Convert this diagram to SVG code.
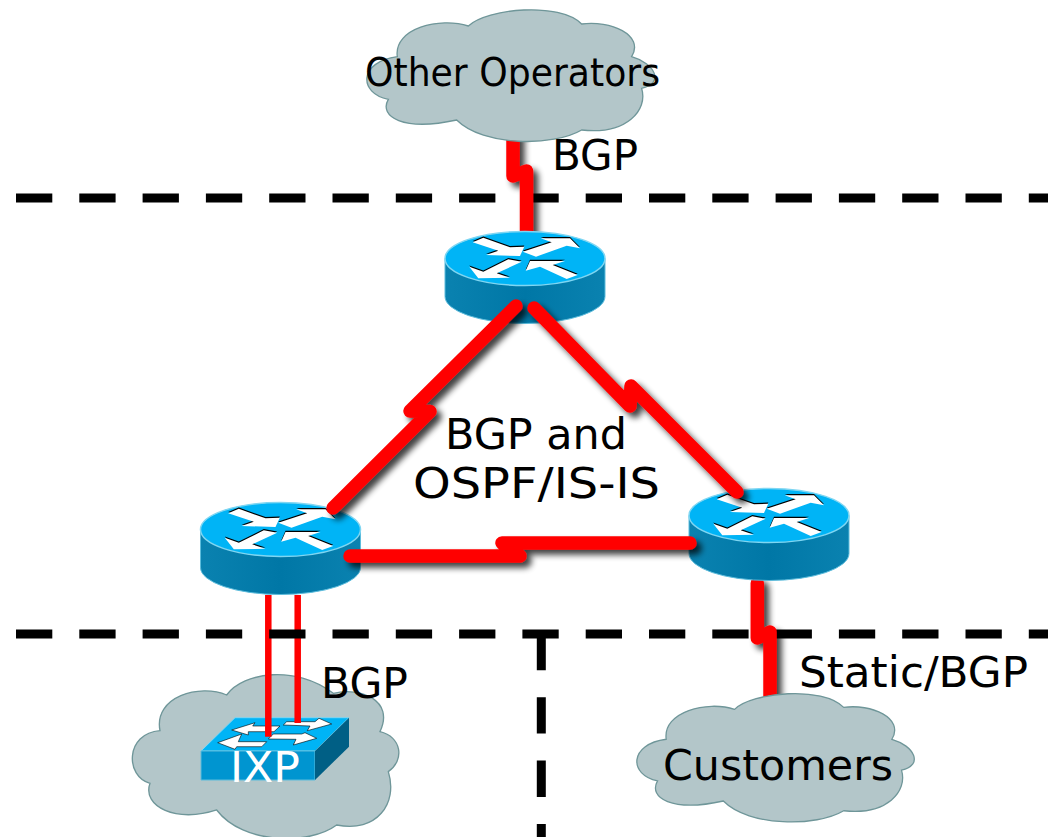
<svg xmlns="http://www.w3.org/2000/svg" width="1048" height="837" viewBox="0 0 1048 837">
<style>
text{font-family:"DejaVu Sans",Verdana,sans-serif;fill:#000}
.cloud{fill:#b3c6c9;stroke:#6f9699;stroke-width:4}
.link{fill:none;stroke:#f00;stroke-width:13.5;stroke-linecap:round;stroke-linejoin:round}
.thin{fill:none;stroke:#f00;stroke-width:6.5}
.dash{fill:none;stroke:#000;stroke-width:9;stroke-dasharray:36.3 27}
.w{fill:#fff}
.k{fill:#000}
</style>
<defs>
<filter id="sh" filterUnits="userSpaceOnUse" x="0" y="0" width="1048" height="837">
<feGaussianBlur in="SourceAlpha" stdDeviation="3"/><feOffset dx="5" dy="5"/><feComponentTransfer><feFuncA type="linear" slope=".75"/></feComponentTransfer>
<feMerge><feMergeNode/><feMergeNode in="SourceGraphic"/></feMerge>
</filter>
<linearGradient id="side" x1="0" x2="1" y1="0" y2="0"><stop offset="0" stop-color="#0a82b0"/><stop offset=".5" stop-color="#0077a6"/><stop offset="1" stop-color="#0a82b0"/></linearGradient>
<path id="cl" d="M385,78C440,25 660,5 725,72C810,60 915,105 875,170C945,190 975,250 905,265C925,330 860,405 725,390C640,440 430,440 350,360C190,395 115,350 145,298C55,280 55,185 172,170C160,85 300,50 385,78Z"/>
<g id="arrows">
<path id="a1" d="M-52.3,-16.2L-41.7,-20.8L-15,-11.2L-.7,-11.8L-5,-2.5L-39,-3.5L-26.7,-7.8Z"/>
<path id="a2" d="M-2.3,-6.8L26.7,-16.2L15.7,-20.2L45,-20.2L55,-10.2L41.7,-12.8L11,-1.8Z"/>
<path id="a3" d="M-3.3,3.2L-28.3,14.8L-15,19.2L-46.7,19.8L-55.7,8.2L-41.7,13.2L-16.7,.8Z"/>
<path id="a4" d="M.7,12.2L5,2.5L40,2.5L27.7,6.5L52.7,16.5L41.7,20.5L15,8.2Z"/>
</g>
<g id="router">
<path d="M-80,0V38A80,27 0 0 0 80,38V0Z" fill="url(#side)" stroke="#5cbcdc" stroke-width="1"/>
<ellipse cx="0" cy="0" rx="80" ry="27" fill="#00b4f6" stroke="#7fd6f2" stroke-width="1.5"/>
<use href="#arrows" class="k" y="-1.2"/>
<use href="#arrows" class="w"/>
</g>
</defs>
<g id="cloud-ixp"><path class="cloud" transform="translate(120 590) scale(.3333)" d="M320,315C370,245 530,225 640,310C720,290 825,330 780,425C845,440 855,510 805,545C835,640 770,730 650,705C570,765 370,765 290,660C170,700 65,650 90,580C15,560 15,430 120,422C100,320 240,280 320,315Z"/></g>
<g id="switch">
<path d="M235,717.7H349L315,751H201Z" fill="#00b4f6" stroke="#7fd6f2"/>
<path d="M201,751H315V780H201Z" fill="#0095d0" stroke="#5cbcdc"/>
<path d="M315,751L349,717.7V746.7L315,780Z" fill="#005f85"/>
<g class="w" stroke="#000" stroke-width=".6">
<path d="M231.7,730L255,722.7L252.7,726H280L274,731.7H248.3V735Z"/>
<path d="M283.3,725L286.7,721.7H315L319,718.3L331.7,724L307.3,730.7L310,726Z"/>
<path d="M217.7,742.7L241.7,734L238.3,741.7H266.7L261.7,746.7H236.7L235,749.3Z"/>
<path d="M268.3,739L273.3,734H301.7L305,732.7L316.7,738.3L293.3,745L296,739.3Z"/>
</g>
</g>
<g id="connectors-ixp">
<path class="thin" d="M268.3,595V736.7M297.7,595V723"/>
</g>
<path class="dash" d="M16,198H1048M16,634H1048"/>
<path class="dash" d="M541.3,634V837"/>
<g id="connectors-under">
<path class="link" filter="url(#sh)" d="M513,130V176L526.5,171V231"/>
<path class="link" filter="url(#sh)" d="M757.3,583V638L770,632V700"/>
</g>
<g id="cloud-top"><use href="#cl" class="cloud" transform="translate(340 0) scale(.3333)"/></g>
<g id="cloud-customers"><use href="#cl" class="cloud" transform="translate(611 684) scale(.321 .325)"/></g>
<g id="router-top"><use href="#router" x="525" y="258.5"/></g>
<g id="router-left"><use href="#router" x="280.5" y="529.5"/></g>
<g id="router-right"><use href="#router" x="769" y="515.5"/></g>
<g id="connectors">
<path class="link" filter="url(#sh)" d="M333,508L430,411.5L410,411L516,306"/>
<path class="link" filter="url(#sh)" d="M534,308L630,406L631,386L737,492"/>
<path class="link" filter="url(#sh)" d="M350,556H520L502,543H690"/>
</g>
<text x="365" y="86" font-size="39" textLength="295" lengthAdjust="spacingAndGlyphs">Other Operators</text>
<text x="552" y="169.5" font-size="42" textLength="86" lengthAdjust="spacingAndGlyphs">BGP</text>
<text x="445" y="448.5" font-size="42" textLength="182" lengthAdjust="spacingAndGlyphs">BGP and</text>
<text x="413" y="498" font-size="43" textLength="247" lengthAdjust="spacingAndGlyphs">OSPF/IS-IS</text>
<text x="321" y="698" font-size="42" textLength="87" lengthAdjust="spacingAndGlyphs">BGP</text>
<text x="799" y="687" font-size="43" textLength="229" lengthAdjust="spacingAndGlyphs">Static/BGP</text>
<text x="663" y="780" font-size="43" textLength="230" lengthAdjust="spacingAndGlyphs">Customers</text>
<text x="230" y="782" font-size="43" textLength="70" lengthAdjust="spacingAndGlyphs" style="fill:#fff">IXP</text>
</svg>
